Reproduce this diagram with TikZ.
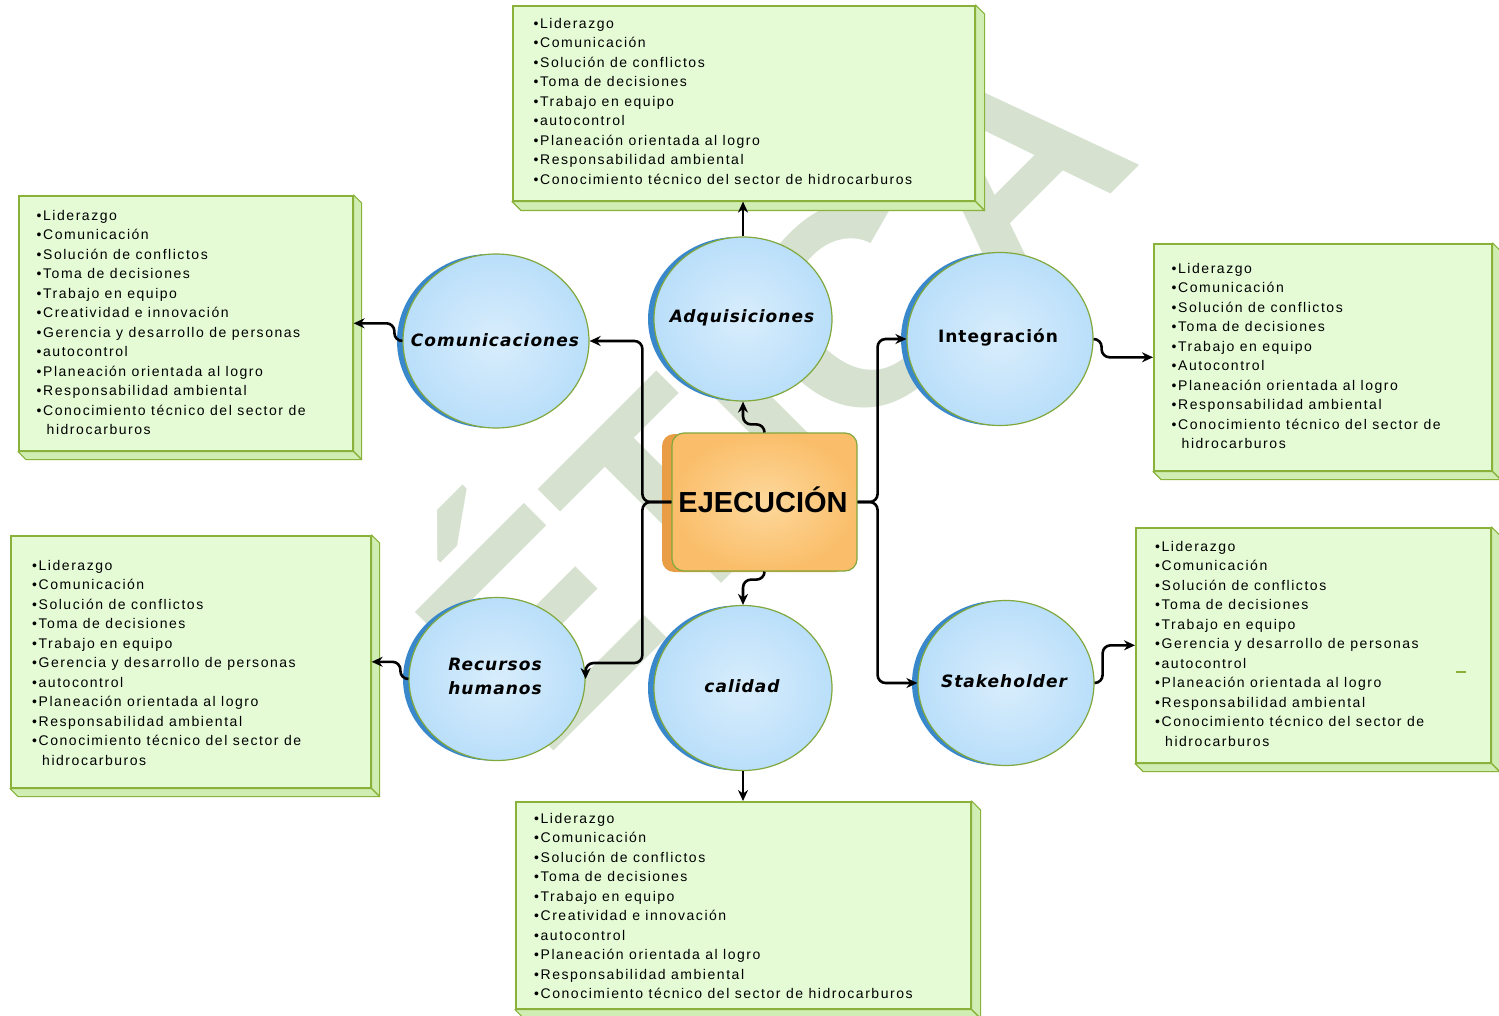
\documentclass[tikz,border=0pt]{standalone}
\usepackage{fontspec}
\setmainfont{Liberation Sans}
\newfontfamily\boxfont[LetterSpace=11]{Liberation Sans}
\newfontfamily\circfont[LetterSpace=6]{DejaVu Sans}
\usetikzlibrary{shapes.geometric,shadows,arrows.meta,calc}
\definecolor{gfill}{RGB}{228,251,214}
\definecolor{gside}{RGB}{208,238,180}
\definecolor{gline}{RGB}{138,178,58}
\definecolor{cin}{RGB}{216,237,252}
\definecolor{cout}{RGB}{186,223,250}
\definecolor{cshadow}{RGB}{58,136,204}
\definecolor{cline}{RGB}{128,168,60}
\definecolor{oin}{RGB}{253,216,156}
\definecolor{oout}{RGB}{250,190,106}
\definecolor{oshadow}{RGB}{233,158,70}
\definecolor{wm}{RGB}{214,225,208}
\tikzset{
  gbox/.style={draw=gline, line width=1.6pt, fill=gfill, anchor=north west, inner sep=0pt},
  gbevel/.style={draw=gline, line width=1.2pt, fill=gside, line join=round},
  listtxt/.style={anchor=north west, align=left, inner sep=0pt, font=\boxfont\fontsize{14}{19.5}\selectfont},
  circ/.style={ellipse, draw=cline, line width=1.2pt, inner color=cin, outer color=cout, general shadow={fill=cshadow, shadow xshift=-6pt}, inner sep=0pt},
  circtxt/.style={font=\circfont\bfseries\itshape\fontsize{17}{24}\selectfont, align=center, inner sep=0pt},
  ejbox/.style={rectangle, rounded corners=12pt, draw=cline, line width=1.2pt, inner color=oin, outer color=oout, general shadow={fill=oshadow, shadow xshift=-10pt, shadow yshift=-1pt}, minimum width=185pt, minimum height=138pt, inner sep=0pt},
  conn/.style={draw=black, line width=2.6pt, rounded corners=8pt, -{Stealth[length=11pt,width=10pt]}},
}
\newcommand{\hid}{\hspace*{10pt}hidrocarburos}
\begin{document}
\begin{tikzpicture}[x=1pt,y=-1pt]
\useasboundingbox (0,0) rectangle (1499,1016);
\clip (0,0) rectangle (1499,1016);
% watermark
\node[rotate=45, anchor=base west, text=wm, font=\bfseries\fontsize{285}{285}\selectfont, inner sep=0pt] (wmark) at (540,765) {ÉTICA};

% green boxes
\node[gbox, minimum width=462pt, minimum height=195pt] (btop) at (512,5) {};
\node[gbox, minimum width=334pt, minimum height=255pt] (blt) at (18,195) {};
\node[gbox, minimum width=338pt, minimum height=227pt] (brt) at (1153,243) {};
\node[gbox, minimum width=360pt, minimum height=252pt] (blb) at (10,535) {};
\node[gbox, minimum width=355pt, minimum height=235pt] (brb) at (1135,527) {};
\node[gbox, minimum width=455pt, minimum height=207pt] (bbot) at (515,801) {};
\foreach \b/\d in {btop/9,blt/8,brt/8,blb/8,brb/8,bbot/9}{
  \draw[gbevel] (\b.north east) -- ++(\d,\d) -- ($(\b.south east)+(\d,\d)$) -- (\b.south east) -- cycle;
  \draw[gbevel] (\b.south west) -- ++(\d,\d) -- ($(\b.south east)+(\d,\d)$) -- (\b.south east) -- cycle;
}

\node[listtxt] (ttop) at (533.5,18) {•Liderazgo\\•Comunicación\\•Solución de conflictos\\•Toma de decisiones\\•Trabajo en equipo\\•autocontrol\\•Planeación orientada al logro\\•Responsabilidad ambiental\\•Conocimiento técnico del sector de hidrocarburos};
\node[listtxt] (tlt) at (36.5,210) {•Liderazgo\\•Comunicación\\•Solución de conflictos\\•Toma de decisiones\\•Trabajo en equipo\\•Creatividad e innovación\\•Gerencia y desarrollo de personas\\•autocontrol\\•Planeación orientada al logro\\•Responsabilidad ambiental\\•Conocimiento técnico del sector de\\\hid};
\node[listtxt] (trt) at (1171.5,263) {•Liderazgo\\•Comunicación\\•Solución de conflictos\\•Toma de decisiones\\•Trabajo en equipo\\•Autocontrol\\•Planeación orientada al logro\\•Responsabilidad ambiental\\•Conocimiento técnico del sector de\\\hid};
\node[listtxt] (tlb) at (32,560) {•Liderazgo\\•Comunicación\\•Solución de conflictos\\•Toma de decisiones\\•Trabajo en equipo\\•Gerencia y desarrollo de personas\\•autocontrol\\•Planeación orientada al logro\\•Responsabilidad ambiental\\•Conocimiento técnico del sector de\\\hid};
\node[listtxt] (trb) at (1155,541) {•Liderazgo\\•Comunicación\\•Solución de conflictos\\•Toma de decisiones\\•Trabajo en equipo\\•Gerencia y desarrollo de personas\\•autocontrol\\•Planeación orientada al logro\\•Responsabilidad ambiental\\•Conocimiento técnico del sector de\\\hid};
\node[listtxt] (tbot) at (534,813) {•Liderazgo\\•Comunicación\\•Solución de conflictos\\•Toma de decisiones\\•Trabajo en equipo\\•Creatividad e innovación\\•autocontrol\\•Planeación orientada al logro\\•Responsabilidad ambiental\\•Conocimiento técnico del sector de hidrocarburos};

% circles
\node[circ, minimum width=186pt, minimum height=174pt] (com) at (496,341) {};
\node[circ, minimum width=178pt, minimum height=164pt] (adq) at (743,319) {};
\node[circ, minimum width=186pt, minimum height=173pt] (integ) at (1000,339) {};
\node[circ, minimum width=176pt, minimum height=163pt] (rh) at (497,679) {};
\node[circ, minimum width=178pt, minimum height=165pt] (cal) at (743,688) {};
\node[circ, minimum width=176pt, minimum height=165pt] (stk) at (1006,683) {};
\node[circtxt] (comt) at (495,340) {Comunicaciones};
\node[circtxt] (adqt) at (742,318) {Adquisiciones};
\node[circtxt, font=\circfont\bfseries\fontsize{17}{24}\selectfont] (integt) at (998,338) {Integración};
\node[circtxt] (rht) at (495,676) {Recursos\\humanos};
\node[circtxt] (calt) at (742,686) {calidad};
\node[circtxt] (stkt) at (1004,681) {Stakeholder};

% centre
\node[ejbox] (ej) at (764.5,502) {};
\node[font=\bfseries\fontsize{29}{32}\selectfont, inner sep=0pt] (ejt) at (763,500) {EJECUCIÓN};

% connectors
\draw[conn] (ej.north) -- ++(0,-8) -| (adq.south);
\draw[conn] (ej.south) -- ++(0,8) -| (cal.north);
\draw[conn] (adq.north) -- (adq.north |- btop.south);
\draw[conn] (cal.south) -- (cal.south |- bbot.north);
\draw[conn] (ej.west) -- ++(-29,0) |- (com.east);
\draw[conn] (ej.west) -- ++(-29,0) |- ($(rh.east)+(0,-16)$) -- (rh.east);
\draw[conn] (ej.east) -- ++(20,0) |- (integ.west);
\draw[conn] (ej.east) -- ++(20,0) |- (stk.west);
\draw[conn] (com.west) -- ++(-8,0) |- (blt.east);
\draw[conn] (rh.west) -- ++(-8,0) |- (blb.east);
\draw[conn] (integ.east) -- ++(8,0) |- (brt.west);
\draw[conn] (stk.east) -- ++(8,0) |- (brb.west);

% stray mark
\draw[gline, line width=1.5pt] (1456,672) -- (1466,672);
\end{tikzpicture}
\end{document}
